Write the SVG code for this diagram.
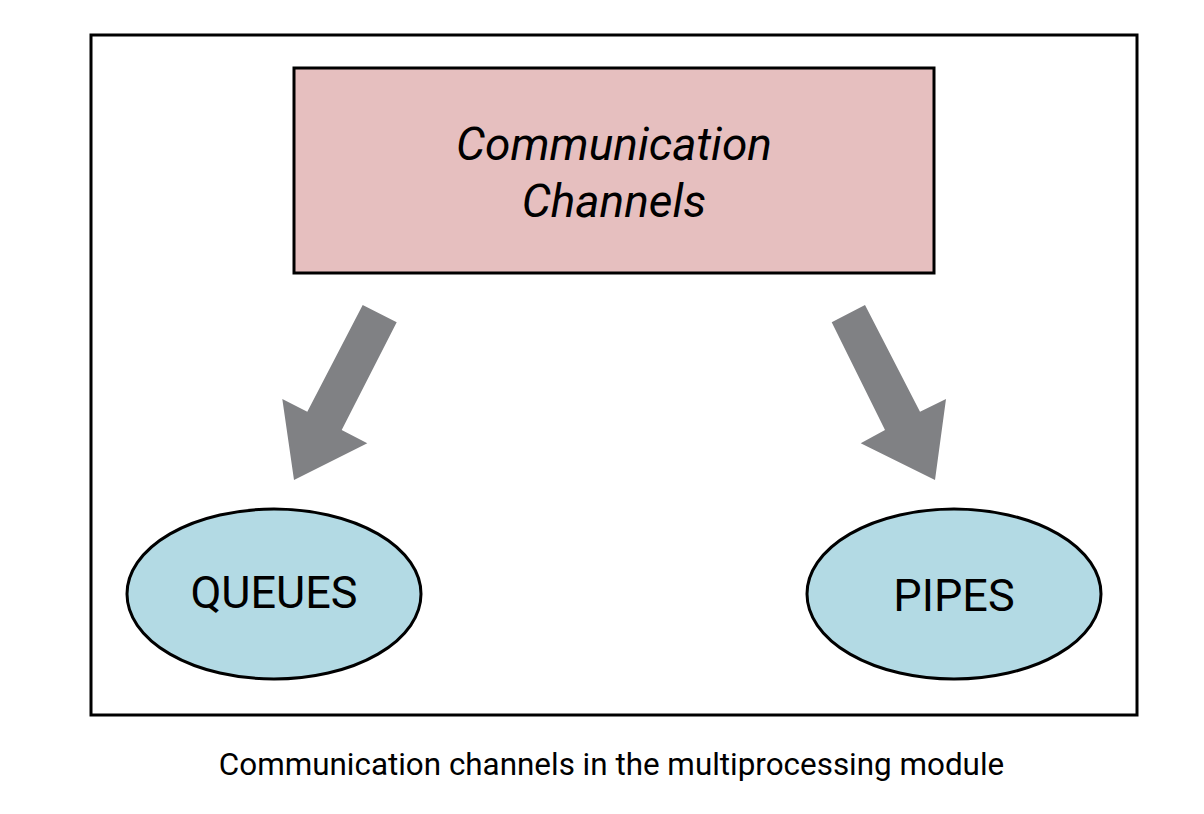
<svg xmlns="http://www.w3.org/2000/svg" width="1204" height="814" viewBox="0 0 1204 814">
<style>
.frame{fill:#ffffff;stroke:#000000;stroke-width:3}
.box{fill:#e6bfbf;stroke:#000000;stroke-width:3}
.ell{fill:#b3dae4;stroke:#000000;stroke-width:3}
.arrow{fill:#808184;stroke:none}
.t{font-family:Roboto,"Liberation Sans",sans-serif;fill:#000000;text-anchor:middle}
.big{font-size:45px}
.it{font-style:italic;font-size:46px}
.cap{font-size:31.4px}
</style>
<rect width="1204" height="814" fill="#ffffff"/>
<rect id="frame" class="frame" x="91" y="35" width="1046" height="680"/>
<g id="comm">
<rect class="box" x="294" y="68" width="640" height="205"/>
<text class="t it" x="614" y="160">Communication</text>
<text class="t it" x="614" y="217">Channels</text>
</g>
<g id="queues">
<ellipse class="ell" cx="274" cy="594" rx="147" ry="85"/>
<text class="t big" x="274" y="608">QUEUES</text>
</g>
<g id="pipes">
<ellipse class="ell" cx="954" cy="594" rx="147" ry="85"/>
<text class="t big" x="954" y="611">PIPES</text>
</g>
<g id="connectors">
<polygon class="arrow" points="362.7,305 396.7,322.3 341.7,430 367.3,443.3 294,480 282.3,399 307.3,411.7"/>
<polygon class="arrow" points="865,305 831.7,322.3 885,430 860.7,443.3 935,480 946,399 920,411.7"/>
</g>
<text id="caption" class="t cap" x="611.5" y="775">Communication channels in the multiprocessing module</text>
</svg>
